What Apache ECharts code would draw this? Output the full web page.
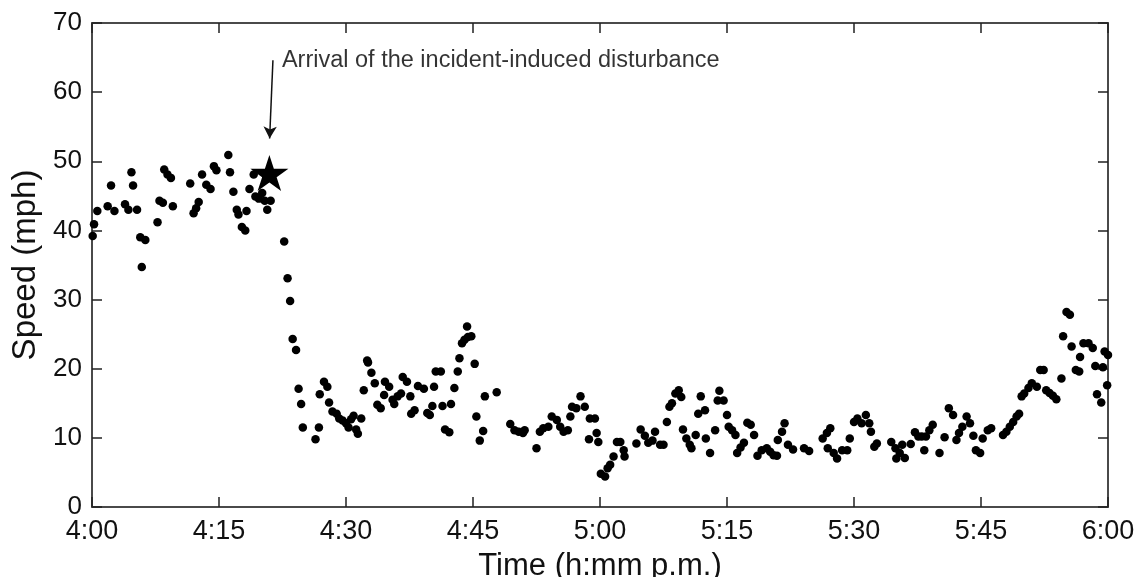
<!DOCTYPE html>
<html>
<head>
<meta charset="utf-8">
<script src="https://cdn.jsdelivr.net/npm/echarts@6/dist/echarts.min.js"></script>
<style>
  html, body { margin: 0; padding: 0; background: #fff; }
  #chart { width: 1140px; height: 577px; }
</style>
</head>
<body>
<div id="chart"></div>
<script>
// Time ticks (minutes after 4:00 p.m.) and their labels
const timeTickLabels = ['4:00', '4:15', '4:30', '4:45', '5:00', '5:15', '5:30', '5:45', '6:00'];
const speedTickLabels = ['0', '10', '20', '30', '40', '50', '60', '70'];

// Observed speeds: [minutes after 4:00 p.m., speed mph]
const observations = [
  [0.08,39.2],[0.24,40.9],[0.63,42.8],[1.85,43.5],[2.25,46.5],[2.65,42.8],[3.9,43.8],[4.3,43.0],
  [4.66,48.4],[4.85,46.5],[5.32,43.0],[5.7,39.0],[5.88,34.7],[6.3,38.6],[7.74,41.2],[7.97,44.3],
  [8.37,44.0],[8.53,48.8],[8.92,48.1],[9.32,47.6],[9.55,43.5],[11.6,46.8],[12.0,42.5],[12.3,43.2],
  [12.6,44.1],[13.0,48.1],[13.5,46.6],[14.0,46.0],[14.4,49.3],[14.7,48.7],[16.1,50.9],[16.3,48.4],
  [16.7,45.6],[17.1,43.0],[17.3,42.3],[17.7,40.5],[18.1,40.0],[18.25,42.8],[18.6,46.0],[19.1,48.1],
  [19.3,44.9],[19.7,44.6],[20.1,45.4],[20.4,44.3],[20.7,43.0],[21.1,44.3],[22.7,38.4],[23.1,33.1],
  [23.4,29.8],[23.7,24.3],[24.1,22.7],[24.4,17.1],[24.7,14.9],[24.9,11.5],[26.4,9.8],[26.8,11.5],
  [26.9,16.3],[27.4,18.1],[27.8,17.4],[28.0,15.1],[28.4,13.8],[28.9,13.5],[29.2,12.8],[29.6,12.5],
  [30.0,12.1],[30.3,11.5],[30.6,12.7],[30.9,13.2],[31.2,11.2],[31.4,10.6],[31.8,12.8],[32.1,16.9],
  [32.5,21.2],[32.6,20.9],[33.0,19.4],[33.4,17.9],[33.7,14.8],[34.1,14.3],[34.5,16.2],[34.6,18.1],
  [35.1,17.4],[35.5,15.5],[35.7,14.9],[36.1,16.0],[36.5,16.4],[36.7,18.8],[37.2,18.1],[37.6,16.0],
  [37.7,13.5],[38.1,14.0],[38.5,17.5],[39.2,17.1],[39.6,13.6],[39.9,13.3],[40.2,14.6],[40.4,17.4],
  [40.6,19.6],[41.2,19.6],[41.4,14.6],[41.7,11.2],[42.2,10.8],[42.4,14.9],[42.8,17.2],[43.2,19.6],
  [43.4,21.5],[43.7,23.7],[44.0,24.2],[44.4,24.6],[44.8,24.7],[44.3,26.1],[45.2,20.7],[45.4,13.1],
  [45.8,9.6],[46.2,11.0],[46.4,16.0],[47.8,16.6],[49.4,12.0],[49.9,11.1],[50.4,10.9],[50.9,10.7],
  [51.1,11.1],[52.5,8.5],[52.9,10.9],[53.3,11.4],[53.9,11.6],[54.3,13.1],[54.9,12.6],[55.3,11.6],
  [55.7,10.9],[56.2,11.1],[56.5,13.1],[56.7,14.5],[57.2,14.3],[57.7,16.0],[58.2,14.5],[58.7,9.8],
  [58.8,12.8],[59.4,12.8],[59.6,10.7],[59.8,9.4],[60.1,4.8],[60.6,4.4],[60.9,5.6],[61.2,6.1],
  [61.6,7.3],[62.0,9.4],[62.4,9.4],[62.8,8.2],[62.9,7.3],[64.3,9.2],[64.8,11.2],[65.3,10.3],
  [65.7,9.3],[66.2,9.6],[66.5,10.9],[67.1,9.0],[67.5,9.0],[67.9,12.3],[68.2,14.5],[68.5,15.0],
  [68.9,16.4],[69.3,16.9],[69.6,15.9],[69.8,11.2],[70.2,9.9],[70.6,9.0],[70.8,8.5],[71.3,10.4],
  [71.6,13.5],[71.9,16.0],[72.4,14.0],[72.5,9.9],[73.0,7.8],[73.6,11.1],[73.9,15.4],[74.1,16.8],
  [74.6,15.4],[75.0,13.3],[75.2,11.6],[75.6,11.1],[76.0,10.4],[76.2,7.8],[76.6,8.6],[77.0,9.3],
  [77.4,12.2],[77.8,11.9],[78.2,10.4],[78.6,7.4],[79.1,8.2],[79.7,8.5],[80.1,8.0],[80.5,7.5],
  [80.9,7.4],[81.0,9.7],[81.5,10.9],[81.8,12.1],[82.2,9.0],[82.8,8.3],[84.1,8.5],[84.7,8.1],
  [86.3,9.9],[86.8,10.7],[86.9,8.5],[87.2,11.4],[87.6,7.8],[88.0,7.0],[88.6,8.2],[89.2,8.2],
  [89.5,9.9],[90.0,12.3],[90.4,12.8],[90.9,12.1],[91.4,13.3],[91.8,12.1],[92.0,10.9],[92.4,8.7],
  [92.7,9.2],[94.4,9.4],[94.9,8.5],[95.0,7.0],[95.4,7.8],[95.7,9.0],[96.0,7.1],[96.7,9.1],
  [97.2,10.8],[97.6,10.2],[98.0,10.2],[98.3,8.2],[98.5,10.2],[98.9,11.1],[99.3,11.9],[100.1,7.8],
  [100.7,10.1],[101.2,14.3],[101.7,13.3],[102.1,9.7],[102.4,10.7],[102.8,11.6],[103.3,13.1],[103.7,12.1],
  [104.1,10.3],[104.4,8.2],[104.9,7.8],[105.2,9.9],[105.8,11.1],[106.2,11.4],[107.6,10.4],[108.0,10.9],
  [108.4,11.6],[108.8,12.3],[109.2,13.1],[109.5,13.5],[109.8,16.0],[110.1,16.4],[110.6,17.2],[111.0,17.9],
  [111.6,17.4],[112.0,19.8],[112.4,19.8],[112.7,16.9],[113.1,16.5],[113.5,16.1],[113.9,15.6],[114.5,18.6],
  [114.7,24.7],[115.1,28.2],[115.5,27.8],[115.7,23.2],[116.2,19.8],[116.6,19.6],[116.7,21.7],[117.1,23.7],
  [117.7,23.7],[118.2,23.0],[118.5,20.4],[118.7,16.3],[119.2,15.1],[119.4,20.2],[119.6,22.5],[119.9,17.6],
  [120.0,22.0]
];

// Annotation: star at disturbance arrival, arrow and text
const arrivalPoint = [20.95, 48.3];
const arrowStart = [21.37, 64.6];
const arrowEnd = [20.98, 53.3];
const annotationText = 'Arrival of the incident-induced disturbance';
const annotationAnchor = [22.43, 64.6];

const STAR = 'path://M100,0 L122.45,69.1 L195.1,69.1 L136.3,111.8 L158.8,180.9 L100,138.2 L41.2,180.9 L63.7,111.8 L4.9,69.1 L77.55,69.1 Z';
const FONT = '"Liberation Sans", Arial, Helvetica, sans-serif';
const AXIS_COLOR = '#4a4a4a';
const TEXT_COLOR = '#111';

function axisLine() { return { show: true, onZero: false, lineStyle: { color: AXIS_COLOR, width: 2 } }; }
function axisTick() { return { show: true, inside: true, length: 10, lineStyle: { color: '#222', width: 1.5 } }; }

const chart = echarts.init(document.getElementById('chart'), null, { renderer: 'canvas' });

chart.setOption({
  animation: false,
  backgroundColor: '#fff',
  grid: { left: 92, right: 32, top: 23, bottom: 70, containLabel: false, outerBoundsMode: 'none' },
  xAxis: [
    {
      type: 'value', min: 0, max: 120, interval: 15, position: 'bottom',
      axisLine: axisLine(), axisTick: axisTick(), splitLine: { show: false },
      axisLabel: {
        color: TEXT_COLOR, fontFamily: FONT, fontSize: 27, margin: 11,
        formatter: v => timeTickLabels[Math.round(v / 15)]
      },
      name: 'Time (h:mm p.m.)', nameLocation: 'middle', nameGap: 44,
      nameTextStyle: { color: TEXT_COLOR, fontFamily: FONT, fontSize: 31 }
    },
    {
      type: 'value', min: 0, max: 120, interval: 15, position: 'top',
      axisLine: axisLine(), axisTick: axisTick(), splitLine: { show: false },
      axisLabel: { show: false }
    }
  ],
  yAxis: [
    {
      type: 'value', min: 0, max: 70, interval: 10, position: 'left',
      axisLine: axisLine(), axisTick: axisTick(), splitLine: { show: false },
      axisLabel: {
        color: TEXT_COLOR, fontFamily: FONT, fontSize: 26, margin: 10,
        formatter: v => speedTickLabels[Math.round(v / 10)]
      },
      name: 'Speed (mph)', nameLocation: 'middle', nameGap: 48,
      nameTextStyle: { color: TEXT_COLOR, fontFamily: FONT, fontSize: 33 }
    },
    {
      type: 'value', min: 0, max: 70, interval: 10, position: 'right',
      axisLine: axisLine(), axisTick: axisTick(), splitLine: { show: false },
      axisLabel: { show: false }
    }
  ],
  series: [
    {
      name: 'Speed', type: 'scatter', xAxisIndex: 0, yAxisIndex: 0,
      symbol: 'circle', symbolSize: 8.5, clip: false,
      itemStyle: { color: '#000', opacity: 1 },
      data: observations
    },
    {
      name: 'Arrival', type: 'scatter', xAxisIndex: 0, yAxisIndex: 0,
      symbol: STAR, symbolSize: [38, 36], clip: false,
      itemStyle: { color: '#000', opacity: 1 },
      data: [arrivalPoint],
      markLine: {
        silent: true, symbol: ['none', 'arrow'], symbolSize: [10, 12],
        lineStyle: { color: '#111', width: 1.5, type: 'solid' },
        label: { show: false },
        data: [[{ coord: arrowStart }, { coord: arrowEnd }]]
      }
    },
    {
      name: 'Annotation', type: 'scatter', xAxisIndex: 0, yAxisIndex: 0,
      symbolSize: 0, clip: false, silent: true,
      data: [annotationAnchor],
      label: {
        show: true, position: 'right', distance: 0,
        formatter: annotationText,
        color: '#000', fontFamily: FONT, fontSize: 23.5
      }
    }
  ]
});
</script>
</body>
</html>
